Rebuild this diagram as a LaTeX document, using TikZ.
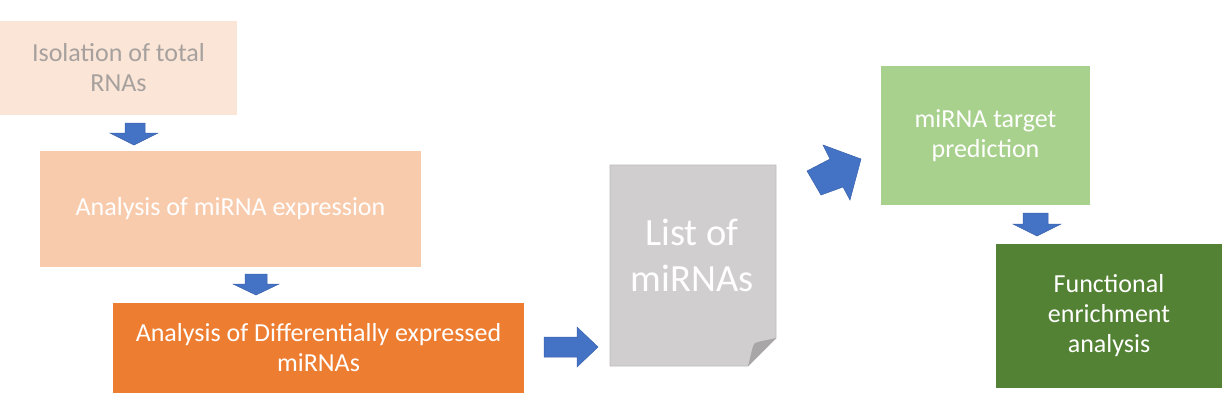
\documentclass[tikz,border=0pt]{standalone}
\usepackage{fontspec}
\setmainfont{Carlito}
\definecolor{peachA}{HTML}{FBE5D6}
\definecolor{peachB}{HTML}{F8CBAD}
\definecolor{orangeC}{HTML}{ED7D31}
\definecolor{greenA}{HTML}{A9D18E}
\definecolor{greenB}{HTML}{548235}
\definecolor{docfill}{HTML}{D0CECE}
\definecolor{docedge}{HTML}{BDBBBB}
\definecolor{docfold}{HTML}{A8A6A6}
\definecolor{textgray}{HTML}{A6A19E}
\definecolor{arrowblue}{HTML}{4472C4}
\definecolor{arrowedge}{HTML}{3A62AC}
\begin{document}
\begin{tikzpicture}[x=1pt,y=-1pt,
  box/.style={draw=none, inner sep=0pt, align=center, text=white,
    font=\fontsize{26}{30}\selectfont},
  doctext/.style={inner sep=0pt, align=center, text=white,
    font=\fontsize{38.5}{46}\selectfont},
  barrow/.style={fill=arrowblue, draw=arrowedge, line width=0.5pt, line join=miter}]
\useasboundingbox (0,0) rectangle (1225,400);

% boxes
\node[box, fill=peachA, text=textgray, minimum width=237pt, minimum height=94pt] (iso) at (118.5,68) {Isolation of total\\RNAs};
\node[box, fill=peachB, minimum width=381pt, minimum height=116pt] (expr) at (230.5,209) {Analysis of miRNA expression};
\node[box, fill=orangeC, minimum width=411pt, minimum height=90pt] (diff) at (318.5,348) {Analysis of Differentially expressed\\miRNAs};
\node[box, fill=greenA, minimum width=209pt, minimum height=139pt] (target) at (985.5,135.5) {miRNA target\\prediction};
\node[box, fill=greenB, minimum width=226pt, minimum height=144pt] (func) at (1109,316) {Functional\\enrichment\\analysis};

% document shape
\draw[fill=docfill, draw=docedge, line width=0.8pt]
  (610,165) -- (776,165) -- (776,338) -- (748,366) -- (610,366) -- cycle;
\fill[docfold] (776,338) -- (748,366) .. controls (751,356) and (752,346) .. (755,343) .. controls (760,341) and (768,340) .. (776,338) -- cycle;
\node[doctext] (doc) at (692,255) {List of\\miRNAs};

% block arrows
\draw[barrow] (125,123) -- (145,123) -- (145,133) -- (158,133) -- (134,145) -- (110,133) -- (125,133) -- cycle;
\draw[barrow] (245,274) -- (267,274) -- (267,284) -- (279,284) -- (256,295) -- (233,284) -- (245,284) -- cycle;
\draw[barrow] (544,337) -- (577,337) -- (577,327) -- (598,347) -- (577,367) -- (577,357) -- (544,357) -- cycle;
\draw[barrow] (807,171) -- (830,159) -- (823,145) -- (861,159) -- (850,200) -- (843,187) -- (821,195) -- cycle;
\draw[barrow] (1023,213) -- (1048,213) -- (1048,224) -- (1061,224) -- (1037,236) -- (1013,224) -- (1023,224) -- cycle;
\end{tikzpicture}
\end{document}
